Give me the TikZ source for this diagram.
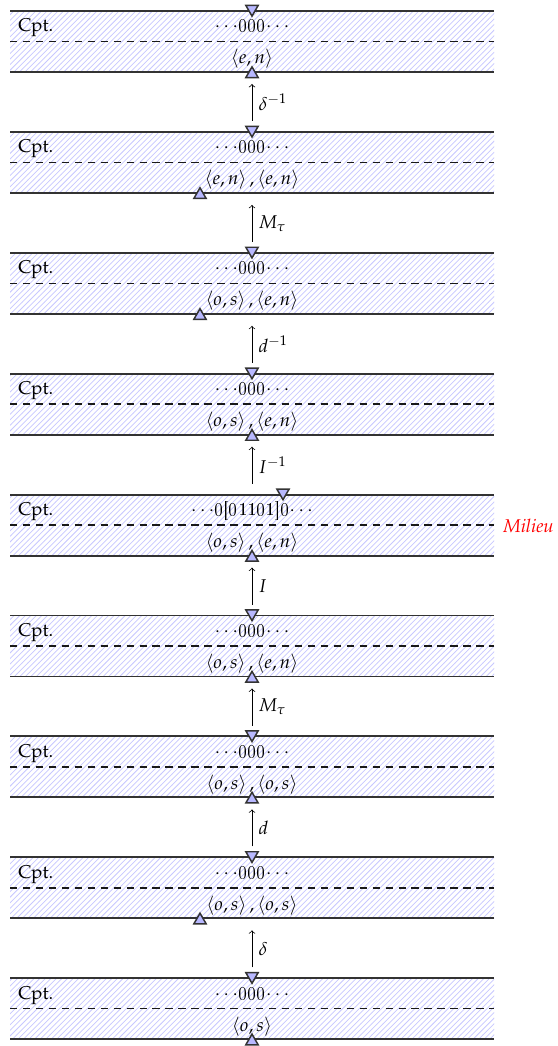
\documentclass[tikz,border=0pt]{standalone}
\usepackage[T1]{fontenc}
\usepackage{mathpazo}
\renewcommand{\ttdefault}{lmtt}
\usepackage{tikz}
\usetikzlibrary{patterns,shapes.geometric}

\begin{document}
\begin{tikzpicture}[
      x=0.019cm,y=-0.019cm,
      band/.style={pattern=north east lines,pattern color=blue!22},
      rail/.style={draw=black!80,line width=1pt},
      split/.style={draw=black!90,line width=0.8pt,dash pattern=on 4pt off 3pt},
      head/.style={regular polygon,regular polygon sides=3,draw=black!80,fill=blue!28,line width=0.8pt,minimum size=0.27cm,inner sep=0pt},
      dnhead/.style={head,shape border rotate=180},
      lbl/.style={inner sep=0pt}]
    \useasboundingbox (0,0) rectangle (557,1046);
    % one band per configuration, top to bottom
    \foreach \i/\tape/\sym/\dn/\up in {
        0/{000}/{\langle e,n\rangle}/252/252,
        1/{000}/{\langle e,n\rangle\,,\langle e,n\rangle}/252/200,
        2/{000}/{\langle o,s\rangle\,,\langle e,n\rangle}/252/200,
        3/{000}/{\langle o,s\rangle\,,\langle e,n\rangle}/252/252,
        4/{0[01101]0}/{\langle o,s\rangle\,,\langle e,n\rangle}/283/252,
        5/{000}/{\langle o,s\rangle\,,\langle e,n\rangle}/252/252,
        6/{000}/{\langle o,s\rangle\,,\langle o,s\rangle}/252/252,
        7/{000}/{\langle o,s\rangle\,,\langle o,s\rangle}/252/200,
        8/{000}/{\langle o,s\rangle}/252/252}{
      \pgfmathsetmacro\ty{11+120.9*\i}
      \fill[band] (10,\ty) rectangle (494,\ty+61);
      \draw[rail] (10,\ty) -- (494,\ty);
      \draw[rail] (10,\ty+61) -- (494,\ty+61);
      \draw[split] (10,\ty+30.5) -- (494,\ty+30.5);
      \node[lbl,anchor=base west] (C\i) at (18,\ty+21) {Cpt.};
      \node[lbl,anchor=base] (tape\i) at (252,\ty+21) {$\cdots$\texttt{\tape}$\cdots$};
      \node[lbl,anchor=base] (sym\i) at (252,\ty+53) {$\sym$};
      \node[dnhead] (D\i) at (\dn,\ty-2) {};
      \node[head] (U\i) at (\up,\ty+63) {};
    }
    % transitions between consecutive bands
    \foreach \i/\op in {0/{\delta^{-1}},1/{M_\tau},2/{d^{-1}},3/{I^{-1}},4/I,5/{M_\tau},6/d,7/\delta}{
      \pgfmathsetmacro\ty{11+120.9*\i}
      \coordinate (src\i) at (252,\ty+110);
      \coordinate (dst\i) at (252,\ty+73);
      \draw[->] (src\i) -- node[right] (op\i) {$\op$} (dst\i);
    }
    \node[lbl,anchor=west,text=red,font=\itshape] (milieu) at (503,525.5) {Milieu};
  \end{tikzpicture}
\end{document}
